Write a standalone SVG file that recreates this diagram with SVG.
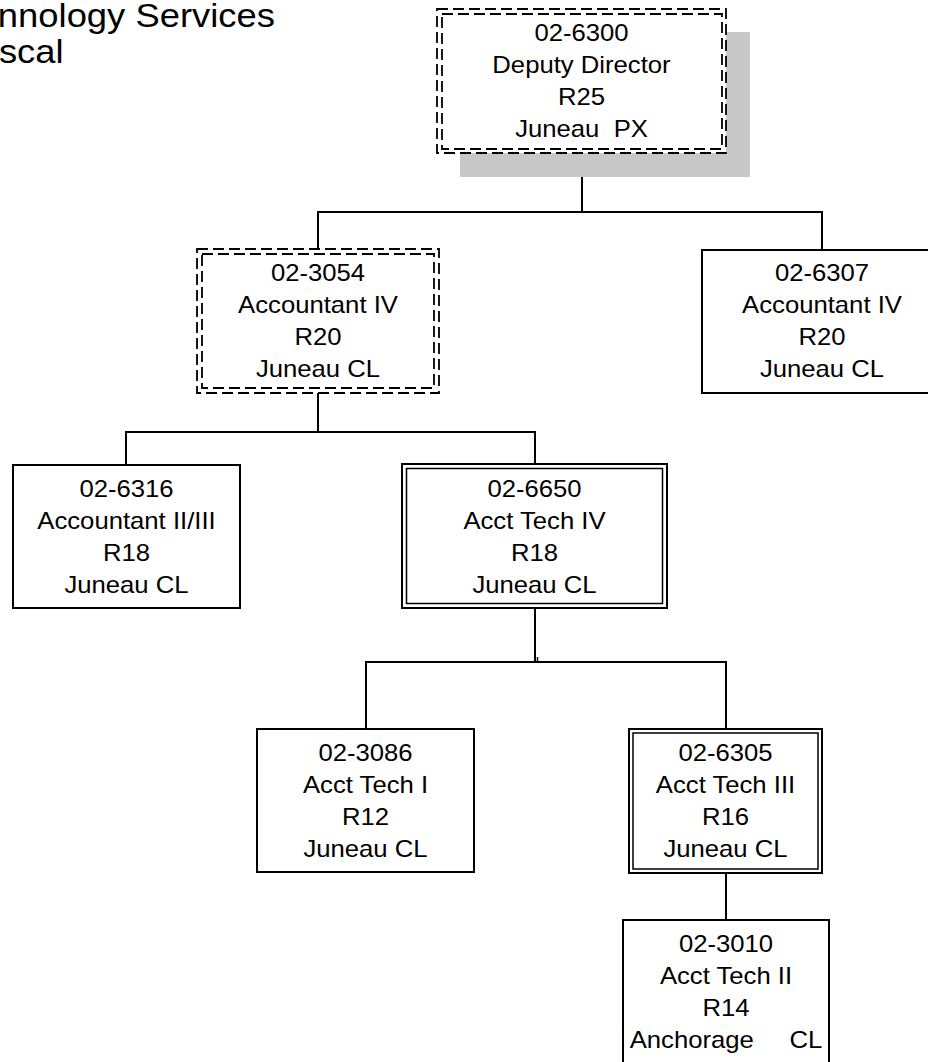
<svg xmlns="http://www.w3.org/2000/svg" width="928" height="1062" viewBox="0 0 928 1062">
<style>
text{font-family:"Liberation Sans",Arial,sans-serif;font-size:24px;fill:#000;text-anchor:middle;white-space:pre}
.hdr{font-size:34px;text-anchor:start}
.box{fill:#fff;stroke:#000;stroke-width:2}
.dash{fill:none;stroke:#000;stroke-width:1.8;stroke-dasharray:11 5}
.dashw{fill:#fff;stroke:#000;stroke-width:1.8;stroke-dasharray:11 5}
.in{fill:none;stroke:#000;stroke-width:1.5}
.shadow{fill:#c8c8c8}
.conn line{stroke:#000;stroke-width:2}
</style>
<rect width="928" height="1062" fill="#fff"/>
<g id="header" transform="scale(1.07 1)">
<text class="hdr" x="-2" y="27">nnology Services</text>
<text class="hdr" x="-1" y="63">scal</text>
</g>
<g id="connectors" class="conn">
<line x1="582" y1="153" x2="582" y2="212"/>
<line x1="317" y1="212" x2="823" y2="212"/>
<line x1="318" y1="212" x2="318" y2="249"/>
<line x1="822" y1="212" x2="822" y2="250"/>
<line x1="318" y1="393" x2="318" y2="432"/>
<line x1="125" y1="432" x2="536" y2="432"/>
<line x1="126" y1="432" x2="126" y2="465"/>
<line x1="535" y1="432" x2="535" y2="464"/>
<line x1="535" y1="608" x2="535" y2="662"/>
<line x1="365" y1="662" x2="727" y2="662"/>
<line x1="366" y1="662" x2="366" y2="729"/>
<line x1="726" y1="662" x2="726" y2="729"/>
<line x1="726" y1="873" x2="726" y2="920"/>
<line x1="537.5" y1="657" x2="537.5" y2="662" style="stroke-width:1.5"/>
</g>
<g id="n6300">
<rect class="shadow" x="460" y="32" width="290" height="145"/>
<rect class="dashw" x="437" y="9" width="289" height="144"/>
<rect class="dash" x="442" y="14" width="280" height="135"/>
<g transform="translate(581.5 0) scale(1.07 1)">
<text y="41">02-6300</text><text y="73">Deputy Director</text><text y="105">R25</text><text y="137">Juneau  PX</text>
</g>
</g>
<g id="n3054">
<rect class="dashw" x="197" y="249" width="242" height="144"/>
<rect class="dash" x="202" y="254" width="232" height="134"/>
<g transform="translate(318 0) scale(1.07 1)">
<text y="281">02-3054</text><text y="313">Accountant IV</text><text y="345">R20</text><text y="377">Juneau CL</text>
</g>
</g>
<g id="n6307">
<rect class="box" x="702" y="250" width="240" height="143"/>
<g transform="translate(822 0) scale(1.07 1)">
<text y="281">02-6307</text><text y="313">Accountant IV</text><text y="345">R20</text><text y="377">Juneau CL</text>
</g>
</g>
<g id="n6316">
<rect class="box" x="13" y="465" width="227" height="143"/>
<g transform="translate(126.5 0) scale(1.07 1)">
<text y="497">02-6316</text><text y="529">Accountant II/III</text><text y="561">R18</text><text y="593">Juneau CL</text>
</g>
</g>
<g id="n6650">
<rect class="box" x="402" y="464" width="265" height="144"/>
<rect class="in" x="406.5" y="468.5" width="256" height="135"/>
<g transform="translate(534.5 0) scale(1.07 1)">
<text y="497">02-6650</text><text y="529">Acct Tech IV</text><text y="561">R18</text><text y="593">Juneau CL</text>
</g>
</g>
<g id="n3086">
<rect class="box" x="257" y="729" width="217" height="143"/>
<g transform="translate(365.5 0) scale(1.07 1)">
<text y="761">02-3086</text><text y="793">Acct Tech I</text><text y="825">R12</text><text y="857">Juneau CL</text>
</g>
</g>
<g id="n6305">
<rect class="box" x="629" y="729" width="193" height="144"/>
<rect class="in" x="633" y="733" width="185" height="136"/>
<g transform="translate(725.5 0) scale(1.07 1)">
<text y="761">02-6305</text><text y="793">Acct Tech III</text><text y="825">R16</text><text y="857">Juneau CL</text>
</g>
</g>
<g id="n3010">
<rect class="box" x="623" y="920" width="206" height="160"/>
<g transform="translate(726 0) scale(1.07 1)">
<text y="952">02-3010</text><text y="984">Acct Tech II</text><text y="1016">R14</text><text y="1048">Anchorage     CL</text>
</g>
</g>
</svg>
